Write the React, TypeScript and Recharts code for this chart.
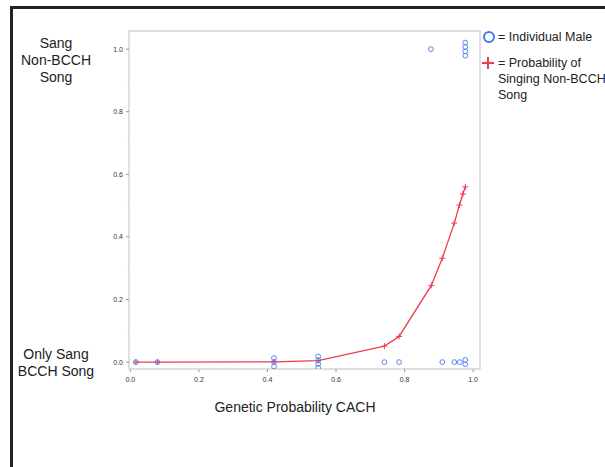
import { ScatterChart, Scatter, XAxis, YAxis, ReferenceArea } from "recharts"

// individual males (stacked circles are read at their drawn heights)
const maleX = [
  0.016, 0.079, 0.419, 0.419, 0.419, 0.548, 0.548, 0.548, 0.548, 0.741, 0.784, 0.91, 0.945, 0.961,
  0.977, 0.977, 0.877, 0.977, 0.977, 0.977, 0.977,
]
const maleY = [
  0, 0, 0.013, 0, -0.014, 0.018, 0.006, -0.006, -0.018, 0, 0, 0, 0, 0, 0.007, -0.007, 1.0, 1.021,
  1.007, 0.993, 0.979,
]

// fitted probability of singing non-BCCH song
const probX = [0.016, 0.079, 0.419, 0.548, 0.741, 0.784, 0.878, 0.91, 0.945, 0.96, 0.97, 0.977]
const probY = [0, 0, 0.001, 0.005, 0.051, 0.082, 0.245, 0.332, 0.444, 0.502, 0.537, 0.56]

const xTicks = [0, 0.2, 0.4, 0.6, 0.8, 1.0]
const yTicks = [0, 0.1, 0.2, 0.3, 0.4, 0.5, 0.6, 0.7, 0.8, 0.9, 1.0]

const X_DOMAIN: [number, number] = [-0.004, 1.02]
const Y_DOMAIN: [number, number] = [-0.022, 1.058]

const BLUE = "#5a86f0"
const RED = "#ee3b52"
const FRAME = "#d6d6d6"
const FONT = "'Liberation Sans', Arial, sans-serif"

const males = maleX.map((x, i) => ({ x, y: maleY[i] }))
const prob = probX.map((x, i) => ({ x, y: probY[i] }))

function Circle(props: any) {
  return <circle cx={props.cx} cy={props.cy} r={2.4} fill="none" stroke={BLUE} strokeWidth={1} />
}

function Cross(props: any) {
  const { cx, cy } = props
  return (
    <g stroke={RED} strokeWidth={1}>
      <line x1={cx - 3} x2={cx + 3} y1={cy} y2={cy} />
      <line x1={cx} x2={cx} y1={cy - 3} y2={cy + 3} />
    </g>
  )
}

function YTick({ x, y, payload }: any) {
  const major = Math.round(payload.value * 10) % 2 === 0
  return (
    <g>
      <line x1={x + (major ? 3 : 4.5)} x2={x + 6} y1={y} y2={y} stroke={major ? "#999" : "#ccc"} />
      {major && (
        <text x={x} y={y} dy={2.5} textAnchor="end" fontSize={7} fill="#333" stroke="none">
          {payload.value.toFixed(1)}
        </text>
      )}
    </g>
  )
}

function XTick({ x, y, payload }: any) {
  return (
    <g>
      <line x1={x} x2={x} y1={y - 7} y2={y - 4} stroke="#999" />
      <text x={x} y={y} dy={6} textAnchor="middle" fontSize={7} fill="#333" stroke="none">
        {payload.value.toFixed(1)}
      </text>
    </g>
  )
}

const label = (left: number, top: number, size: number, align: "center" | "left" = "center") => ({
  position: "absolute" as const,
  left,
  top,
  fontSize: size,
  lineHeight: "17px",
  textAlign: align,
  whiteSpace: "nowrap" as const,
  color: "#222",
  transform: align === "center" ? "translateX(-50%)" : undefined,
})

export default function App() {
  return (
    <div
      style={{
        position: "absolute",
        left: 0,
        top: 0,
        width: 605,
        height: 467,
        overflow: "hidden",
        background: "#fff",
        fontFamily: FONT,
      }}
    >
      <div style={{ position: "absolute", left: 10, top: 6, width: 600, height: 2.5, background: "#222" }} />
      <div style={{ position: "absolute", left: 10, top: 6, width: 2.5, height: 470, background: "#222" }} />

      <ScatterChart width={605} height={467} margin={{ top: 31, right: 125, bottom: 78, left: 99 }}>
        <XAxis
          type="number"
          dataKey="x"
          domain={X_DOMAIN}
          allowDataOverflow
          ticks={xTicks}
          height={20}
          axisLine={false}
          tickLine={false}
          tickSize={3}
          tickMargin={4}
          tick={<XTick />}
        />
        <YAxis
          type="number"
          dataKey="y"
          domain={Y_DOMAIN}
          allowDataOverflow
          ticks={yTicks}
          width={30}
          axisLine={false}
          tickLine={false}
          tickSize={3}
          tickMargin={3}
          tick={<YTick />}
        />
        <ReferenceArea
          x1={X_DOMAIN[0]}
          x2={X_DOMAIN[1]}
          y1={Y_DOMAIN[0]}
          y2={Y_DOMAIN[1]}
          fill="none"
          stroke={FRAME}
          strokeWidth={1.5}
        />
        <Scatter
          data={prob}
          line={{ stroke: RED, strokeWidth: 1.3 }}
          lineType="joint"
          shape={<Cross />}
          isAnimationActive={false}
        />
        <Scatter data={males} shape={<Circle />} isAnimationActive={false} />
      </ScatterChart>

      <div style={label(56, 35, 14)}>
        Sang
        <br />
        Non-BCCH
        <br />
        Song
      </div>
      <div style={label(56, 346, 14)}>
        Only Sang
        <br />
        BCCH Song
      </div>
      <div style={label(295, 399, 14)}>Genetic Probability CACH</div>

      <svg style={{ position: "absolute", left: 480, top: 28 }} width={20} height={45}>
        <circle cx={9} cy={9} r={5} fill="none" stroke="#3d7af5" strokeWidth={2} />
        <g stroke={RED} strokeWidth={2}>
          <line x1={2} x2={14} y1={35} y2={35} />
          <line x1={8} x2={8} y1={29} y2={41} />
        </g>
      </svg>
      <div style={label(498, 29, 12.5, "left")}>= Individual Male</div>
      <div style={{ ...label(498, 55, 12.5, "left"), lineHeight: "16px" }}>
        = Probability of
        <br />
        Singing Non-BCCH
        <br />
        Song
      </div>
    </div>
  )
}
